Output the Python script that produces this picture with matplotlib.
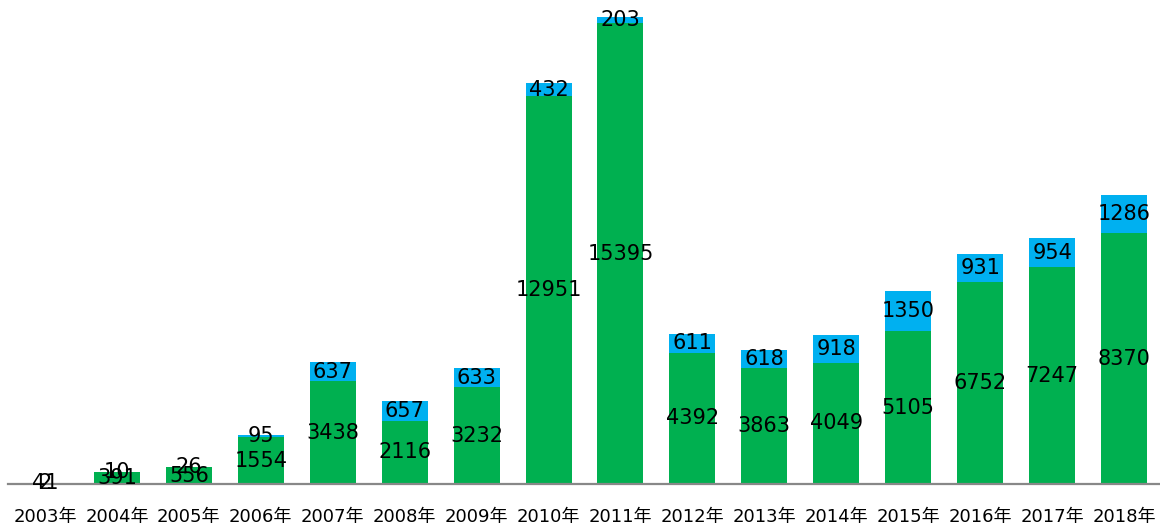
import matplotlib
matplotlib.use("Agg")
import matplotlib.pyplot as plt

years = ["2003年", "2004年", "2005年", "2006年", "2007年", "2008年", "2009年", "2010年",
         "2011年", "2012年", "2013年", "2014年", "2015年", "2016年", "2017年", "2018年"]
green_vals = [41, 391, 556, 1554, 3438, 2116, 3232, 12951, 15395, 4392, 3863, 4049, 5105, 6752, 7247, 8370]
blue_vals = [2, 10, 26, 95, 637, 657, 633, 432, 203, 611, 618, 918, 1350, 931, 954, 1286]

GREEN = "#00B050"
BLUE = "#00B0F0"
FONT = ["DejaVu Sans", "Noto Sans CJK SC"]

fig = plt.figure(figsize=(11.6, 5.27), dpi=100)
ax = fig.add_axes([8 / 1160, 43 / 527, 1 - 8 / 1160, 484 / 527])

x = list(range(len(years)))
width = 0.64
ax.bar(x, green_vals, width=width, color=GREEN, zorder=2)
ax.bar(x, blue_vals, width=width, bottom=green_vals, color=BLUE, zorder=2)

for i, (g, b) in enumerate(zip(green_vals, blue_vals)):
    ax.text(i, g / 2, str(g), ha="center", va="center", fontsize=15,
            family=FONT, color="black", zorder=4)
    ax.text(i, g + b / 2, str(b), ha="center", va="center", fontsize=15,
            family=FONT, color="black", zorder=4)

ax.set_xlim(-0.514, 15.5)
ax.set_ylim(0, 16166)

for side in ("top", "right", "left"):
    ax.spines[side].set_visible(False)
ax.spines["bottom"].set_color("#888888")
ax.spines["bottom"].set_linewidth(1.6)
ax.spines["bottom"].set_zorder(3)

ax.set_yticks([])
ax.set_xticks(x)
ax.set_xticklabels(years, fontsize=13, family=FONT, color="black")
ax.tick_params(axis="x", length=0, pad=17)

fig.savefig("out.png", dpi=100)
